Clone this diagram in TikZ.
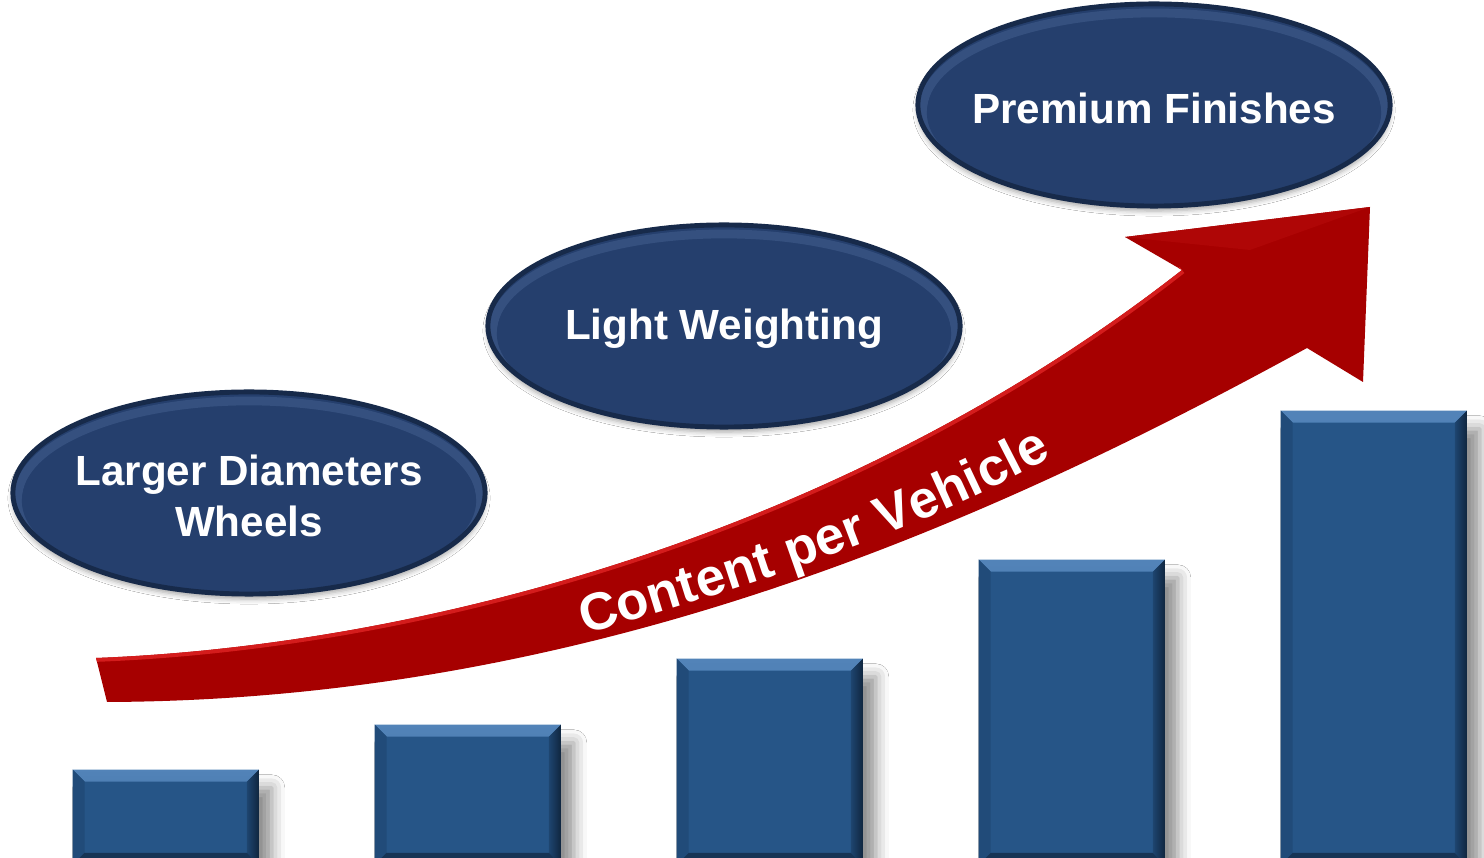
\documentclass[tikz,border=0pt]{standalone}
\usepackage{fontspec}
\setmainfont{Liberation Sans}
\usetikzlibrary{shapes.geometric,shadows.blur,decorations.text}

\definecolor{barblue}{HTML}{265587}
\definecolor{barlight}{HTML}{5283B8}
\definecolor{bartop}{HTML}{3A6A9E}
\definecolor{bardark}{HTML}{10263F}
\definecolor{barside}{HTML}{1E4570}
\definecolor{ovalblue}{HTML}{253F6D}
\definecolor{ovalrim}{HTML}{172A4A}
\definecolor{ovalhi}{HTML}{35507F}
\definecolor{arrowred}{HTML}{A60000}
\definecolor{arrowlight}{HTML}{D41C1C}

\tikzset{
  bar/.style={rectangle, anchor=north west, fill=barblue, inner sep=0pt,
    minimum width=1.86cm,
    blur shadow={shadow xshift=0.13cm, shadow yshift=-0.18cm,
                 shadow blur radius=0.13cm, shadow opacity=45},
    path picture={
      % top bevel
      \shade[top color=barlight, bottom color=bartop]
        (path picture bounding box.north west) -- (path picture bounding box.north east)
        -- ([xshift=-0.12cm,yshift=-0.12cm]path picture bounding box.north east)
        -- ([xshift=0.12cm,yshift=-0.12cm]path picture bounding box.north west) -- cycle;
      % right bevel
      \shade[left color=barside, right color=bardark]
        (path picture bounding box.north east) -- (path picture bounding box.south east)
        -- ([xshift=-0.12cm,yshift=0.12cm]path picture bounding box.south east)
        -- ([xshift=-0.12cm,yshift=-0.12cm]path picture bounding box.north east) -- cycle;
      % left bevel
      \fill[barside!60!barblue]
        (path picture bounding box.north west) -- (path picture bounding box.south west)
        -- ([xshift=0.12cm,yshift=0.12cm]path picture bounding box.south west)
        -- ([xshift=0.12cm,yshift=-0.12cm]path picture bounding box.north west) -- cycle;
      % bottom bevel
      \fill[bardark!70!barblue]
        (path picture bounding box.south west) -- (path picture bounding box.south east)
        -- ([xshift=-0.12cm,yshift=0.12cm]path picture bounding box.south east)
        -- ([xshift=0.12cm,yshift=0.12cm]path picture bounding box.south west) -- cycle;
    }},
  oval/.style={ellipse, fill=ovalblue, draw=ovalrim, line width=1.4pt,
    minimum width=4.72cm, minimum height=2.02cm, inner sep=0pt,
    blur shadow={shadow xshift=0cm, shadow yshift=-0.05cm,
                 shadow blur radius=0.05cm, shadow opacity=35},
    path picture={
      \draw[ovalhi, line width=2.5pt]
        ([yshift=-0.05cm]path picture bounding box.center) ellipse [x radius=2.31cm, y radius=0.97cm];
      \fill[ovalblue] ([yshift=-0.08cm]path picture bounding box.center) ellipse [x radius=2.27cm, y radius=0.93cm];
    }},
  ovaltext/.style={text=white, align=center, inner sep=0pt, yshift=-0.03cm,
    font=\bfseries\fontsize{12}{14.6}\selectfont},
}

\begin{document}
\begin{tikzpicture}[x=0.01cm, y=-0.01cm]
\useasboundingbox (0,0) rectangle (1484,858);
\fill[white] (0,0) rectangle (1484,858);

% rising bars
\node[bar, minimum height=0.95cm] (b1) at (72,769) {};
\node[bar, minimum height=1.40cm] (b2) at (374,724) {};
\node[bar, minimum height=2.06cm] (b3) at (676,658) {};
\node[bar, minimum height=3.05cm] (b4) at (978,559) {};
\node[bar, minimum height=4.54cm] (b5) at (1280,410) {};

% curved arrow
\coordinate (tailtop) at (96,658);
\coordinate (tailbot) at (107,702);
\coordinate (notchL) at (1182,270);
\coordinate (barbL) at (1125,237);
\coordinate (tip) at (1370,207);
\coordinate (barbR) at (1363,382);
\coordinate (notchR) at (1307,348);
\def\arrowpath{(tailtop) .. controls (430,645) and (850,530) .. (notchL)
  -- (barbL) -- (tip) -- (barbR) -- (notchR)
  .. controls (1000,516) and (600,700) .. (tailbot) -- cycle}
\fill[arrowred] \arrowpath;
\begin{scope}
  \clip \arrowpath;
  \draw[arrowlight, line width=2.2pt] (tailtop) .. controls (430,645) and (850,530) .. (notchL);
  \fill[arrowred!80!arrowlight] (barbL) -- (tip) -- (1250,250) -- cycle;
\end{scope}
\path[decorate, decoration={text along path,
    text={|\bfseries\fontsize{15}{18}\selectfont|Content per Vehicle},
    text color=white, text align={fit to path}}]
  (585,635) .. controls (750,585) and (900,540) .. (1052,457);

% labels
\node[oval] (e1) at (249,493) {};
\node[ovaltext] (t1) at (e1) {Larger Diameters\\Wheels};
\node[oval] (e2) at (724,326) {};
\node[ovaltext] (t2) at (e2) {Light Weighting};
\node[oval] (e3) at (1154,105) {};
\node[ovaltext] (t3) at (e3) {Premium Finishes};
\end{tikzpicture}
\end{document}
